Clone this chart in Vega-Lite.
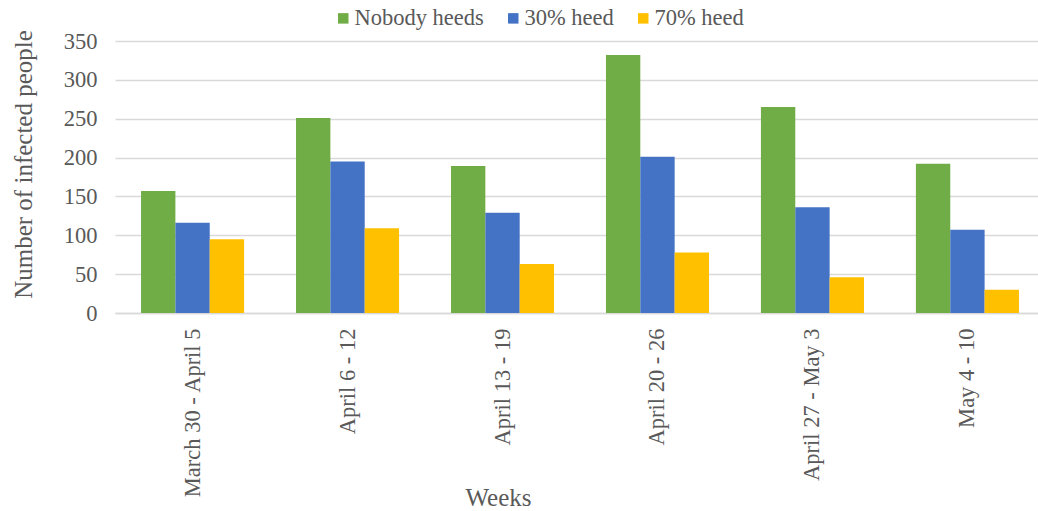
{
  "$schema": "https://vega.github.io/schema/vega-lite/v6.json",
  "autosize": {"type": "none"},
  "width": 922,
  "height": 272,
  "padding": {"left": 115, "top": 41, "right": 1, "bottom": 198},
  "background": "white",
  "config": {
    "view": {"stroke": null},
    "font": "Liberation Serif, Times New Roman, serif",
    "axis": {
      "labelFont": "Liberation Serif, Times New Roman, serif",
      "titleFont": "Liberation Serif, Times New Roman, serif",
      "labelColor": "#595959",
      "titleColor": "#595959",
      "titleFontWeight": "normal",
      "labelFontSize": 22.5,
      "titleFontSize": 25
    },
    "legend": {
      "labelFont": "Liberation Serif, Times New Roman, serif",
      "labelColor": "#595959",
      "labelFontSize": 22.5
    }
  },
  "data": {
    "values": [
      {"week": "March 30 - April 5", "scenario": "Nobody heeds", "infected": 157},
      {"week": "March 30 - April 5", "scenario": "30% heed", "infected": 116},
      {"week": "March 30 - April 5", "scenario": "70% heed", "infected": 95},
      {"week": "April 6 - 12", "scenario": "Nobody heeds", "infected": 251},
      {"week": "April 6 - 12", "scenario": "30% heed", "infected": 195},
      {"week": "April 6 - 12", "scenario": "70% heed", "infected": 109},
      {"week": "April 13 - 19", "scenario": "Nobody heeds", "infected": 189},
      {"week": "April 13 - 19", "scenario": "30% heed", "infected": 129},
      {"week": "April 13 - 19", "scenario": "70% heed", "infected": 63},
      {"week": "April 20 - 26", "scenario": "Nobody heeds", "infected": 332},
      {"week": "April 20 - 26", "scenario": "30% heed", "infected": 201},
      {"week": "April 20 - 26", "scenario": "70% heed", "infected": 78},
      {"week": "April 27 - May 3", "scenario": "Nobody heeds", "infected": 265},
      {"week": "April 27 - May 3", "scenario": "30% heed", "infected": 136},
      {"week": "April 27 - May 3", "scenario": "70% heed", "infected": 46},
      {"week": "May 4 - 10", "scenario": "Nobody heeds", "infected": 192},
      {"week": "May 4 - 10", "scenario": "30% heed", "infected": 107},
      {"week": "May 4 - 10", "scenario": "70% heed", "infected": 30}
    ]
  },
  "mark": {"type": "bar"},
  "encoding": {
    "x": {
      "field": "week",
      "type": "nominal",
      "sort": null,
      "scale": {"range": [0, 930], "paddingInner": 0.335, "paddingOuter": 0.168},
      "axis": {
        "title": "Weeks",
        "labelFont": "Liberation Serif",
        "titleFont": "Liberation Serif",
        "labelAngle": -90,
        "labelPadding": 15,
        "ticks": false,
        "domainColor": "#d9d9d9",
        "domainWidth": 1.5,
        "titleX": 383,
        "titleY": 192,
        "titleAlign": "center",
        "titleBaseline": "alphabetic"
      }
    },
    "xOffset": {
      "field": "scenario",
      "type": "nominal",
      "sort": ["Nobody heeds", "30% heed", "70% heed"],
      "scale": {"paddingInner": 0, "paddingOuter": 0}
    },
    "y": {
      "field": "infected",
      "type": "quantitative",
      "scale": {"domain": [0, 350], "nice": false},
      "axis": {
        "title": "Number of infected people",
        "labelFont": "Liberation Serif",
        "titleFont": "Liberation Serif",
        "values": [0, 50, 100, 150, 200, 250, 300, 350],
        "domain": false,
        "ticks": false,
        "labelPadding": 18,
        "gridColor": "#d9d9d9",
        "gridWidth": 1.5,
        "titleX": -92,
        "titleY": 123,
        "titleAlign": "center",
        "titleBaseline": "middle"
      }
    },
    "color": {
      "field": "scenario",
      "type": "nominal",
      "sort": ["Nobody heeds", "30% heed", "70% heed"],
      "scale": {
        "domain": ["Nobody heeds", "30% heed", "70% heed"],
        "range": ["#70ad47", "#4472c4", "#ffc000"]
      },
      "legend": {
        "title": null,
        "orient": "none",
        "direction": "horizontal",
        "legendX": 217,
        "legendY": -34,
        "labelFont": "Liberation Serif",
        "labelFontSize": 22.5,
        "symbolType": "square",
        "symbolSize": 110,
        "symbolStrokeWidth": 0,
        "labelOffset": 0,
        "columnPadding": 18
      }
    }
  }
}
